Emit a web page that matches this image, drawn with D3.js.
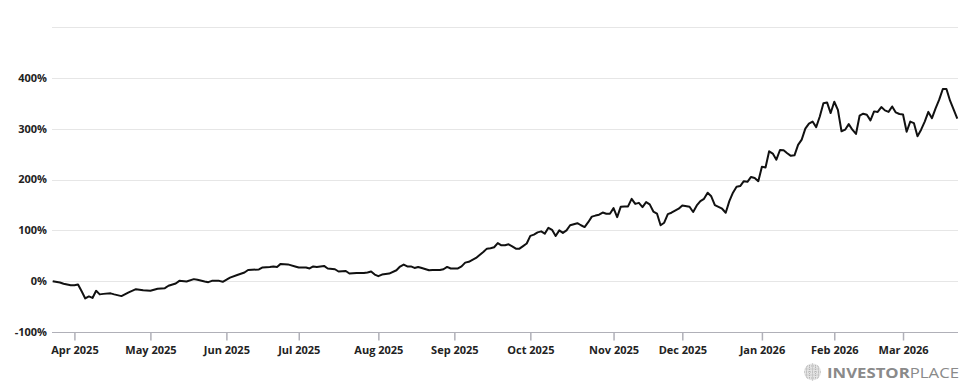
<!DOCTYPE html>
<html>
<head>
<meta charset="utf-8">
<script src="https://cdn.jsdelivr.net/npm/d3@7"></script>
<style>
  body { margin: 0; background: #fff; }
  text { font-family: "Open Sans", "Noto Sans", sans-serif; }
</style>
</head>
<body>
<div id="chart"></div>
<script>
//market holidays (no trading day on the axis)
var holidays = ["2025-04-18", "2025-05-26", "2025-06-19", "2025-07-04", "2025-09-01",
    "2025-11-27", "2025-12-25", "2026-01-01", "2026-01-19", "2026-02-16"];

//y ticks
var yTicks = [-100, 0, 100, 200, 300, 400, 500];
var yLabels = ["-100%", "0%", "100%", "200%", "300%", "400%", ""];

//dates
var dates = [
    "2025-03-24","2025-03-26","2025-03-27","2025-03-31","2025-04-01","2025-04-02","2025-04-03","2025-04-04",
    "2025-04-07","2025-04-08","2025-04-09","2025-04-10","2025-04-11","2025-04-15","2025-04-16","2025-04-21",
    "2025-04-23","2025-04-25","2025-04-29","2025-05-01","2025-05-05","2025-05-07","2025-05-08","2025-05-12",
    "2025-05-13","2025-05-15","2025-05-19","2025-05-20","2025-05-22","2025-05-23","2025-05-27","2025-05-29",
    "2025-05-30","2025-06-03","2025-06-05","2025-06-09","2025-06-10","2025-06-13","2025-06-16","2025-06-18",
    "2025-06-20","2025-06-23","2025-06-24","2025-06-26","2025-06-30","2025-07-01","2025-07-03","2025-07-07",
    "2025-07-08","2025-07-09","2025-07-11","2025-07-14","2025-07-16","2025-07-17","2025-07-21","2025-07-22",
    "2025-07-24","2025-07-28","2025-07-29","2025-07-30","2025-07-31","2025-08-01","2025-08-04","2025-08-06",
    "2025-08-08","2025-08-11","2025-08-12","2025-08-13","2025-08-14","2025-08-15","2025-08-18","2025-08-19",
    "2025-08-21","2025-08-22","2025-08-26","2025-08-27","2025-08-28","2025-08-29","2025-09-03","2025-09-04",
    "2025-09-05","2025-09-08","2025-09-10","2025-09-12","2025-09-15","2025-09-16","2025-09-17","2025-09-18",
    "2025-09-19","2025-09-22","2025-09-23","2025-09-24","2025-09-25","2025-09-26","2025-09-29","2025-09-30",
    "2025-10-01","2025-10-02","2025-10-03","2025-10-06","2025-10-07","2025-10-08","2025-10-09","2025-10-10",
    "2025-10-13","2025-10-14","2025-10-15","2025-10-16","2025-10-17","2025-10-20","2025-10-21","2025-10-22",
    "2025-10-23","2025-10-24","2025-10-27","2025-10-28","2025-10-29","2025-10-30","2025-10-31","2025-11-03",
    "2025-11-04","2025-11-05","2025-11-06","2025-11-07","2025-11-10","2025-11-11","2025-11-12","2025-11-13",
    "2025-11-14","2025-11-17","2025-11-18","2025-11-19","2025-11-20","2025-11-21","2025-11-24","2025-11-25",
    "2025-11-28","2025-12-01","2025-12-03","2025-12-04","2025-12-05","2025-12-08","2025-12-09","2025-12-10",
    "2025-12-11","2025-12-12","2025-12-16","2025-12-17","2025-12-18","2025-12-19","2025-12-22","2025-12-23",
    "2025-12-24","2025-12-26","2025-12-29","2025-12-30","2025-12-31","2026-01-02","2026-01-05","2026-01-06",
    "2026-01-07","2026-01-08","2026-01-09","2026-01-12","2026-01-13","2026-01-14","2026-01-15","2026-01-16",
    "2026-01-20","2026-01-21","2026-01-22","2026-01-23","2026-01-26","2026-01-27","2026-01-28","2026-01-29",
    "2026-01-30","2026-02-02","2026-02-03","2026-02-04","2026-02-05","2026-02-06","2026-02-09","2026-02-10",
    "2026-02-11","2026-02-12","2026-02-13","2026-02-17","2026-02-18","2026-02-19","2026-02-20","2026-02-23",
    "2026-02-24","2026-02-25","2026-02-26","2026-02-27","2026-03-02","2026-03-03","2026-03-04","2026-03-05",
    "2026-03-06","2026-03-09","2026-03-10","2026-03-11","2026-03-12","2026-03-13","2026-03-16","2026-03-17",
    "2026-03-18","2026-03-19","2026-03-23"
];

//return in %
var returns = [
    0, -2.6, -5, -8, -8, -6.5, -20, -34,
    -30, -33, -19, -26, -25, -24, -26, -29.4,
    -22, -15.7, -18, -19, -15, -13.7, -9, -4.5,
    0.6, -0.6, 4, 2.6, -0.6, -2, 0.6, 0.6,
    -1.3, 7, 12, 17, 22, 23, 27, 28,
    29, 28, 34, 33, 29, 27, 27, 25,
    29, 28, 30, 25, 23.5, 19, 20, 15,
    16, 16, 17, 19, 13, 9.8, 13, 15,
    21.5, 28.7, 32.7, 29, 29, 26, 28, 26,
    21.5, 22, 22, 23.5, 28, 25, 25, 29,
    36.5, 38, 45.7, 57.5, 64, 64.7, 66.7, 75,
    70.6, 70.6, 72.5, 68.6, 64, 64, 69, 74,
    89, 91.5, 96, 98, 93.5, 105, 101, 89,
    100, 95, 100, 110, 112, 114, 110, 106.5,
    116, 127, 129, 130.7, 135, 132.7, 132.7, 143.7,
    126, 146.5, 147, 147, 162, 152, 154, 145.7,
    155.5, 151, 137, 133, 110, 115, 132, 134.6,
    142.5, 149, 146.5, 136, 149, 157.5, 162, 174,
    167, 149.6, 142.5, 134.6, 157.5, 174, 185.7, 187,
    196.7, 195.5, 205, 203, 196.7, 225, 223.5, 255.5,
    251, 239, 258, 257.5, 251.6, 246.5, 247.6, 268,
    278.4, 300, 310, 314, 303, 324, 350, 351.6,
    330.7, 353, 337, 295, 298, 309, 298, 289.6,
    325.5, 329.4, 327.5, 316.3, 334, 333, 342.5, 336,
    333, 343.7, 332, 328.8, 328, 294, 314, 311,
    285, 298, 314, 333, 320.6, 340, 357, 378,
    378, 355, 319.6
];

var svgWidth = 975;
var svgHeight = 390;

var svg = d3.select("#chart")
    .append("svg")
    .attr("width", svgWidth)
    .attr("height", svgHeight);

var parse = d3.timeParse("%Y-%m-%d");
var fmt = d3.timeFormat("%Y-%m-%d");

//trading days between first and last date
var tradingDays = d3.timeDay.range(parse(dates[0]), d3.timeDay.offset(parse(dates[dates.length - 1]), 1))
    .filter(d => d.getDay() != 0 && d.getDay() != 6 && holidays.indexOf(fmt(d)) < 0)
    .map(fmt);

var xScale = d3.scalePoint()
    .domain(tradingDays)
    .range([52.7, 957.3]);

var yScale = d3.scaleLinear()
    .domain([-100, 500])
    .range([332, 27]);

//gridlines
svg.append("g")
    .selectAll("line")
    .data(yTicks.slice(1))
    .enter()
    .append("line")
    .attr("x1", 52)
    .attr("x2", 958)
    .attr("y1", d => Math.round(yScale(d)) + 0.5)
    .attr("y2", d => Math.round(yScale(d)) + 0.5)
    .attr("stroke", "#e6e6e6")
    .attr("stroke-width", 1);

//y labels
svg.append("g")
    .selectAll("text")
    .data(yTicks)
    .enter()
    .append("text")
    .attr("x", 47)
    .attr("y", d => yScale(d))
    .attr("dy", "0.35em")
    .attr("text-anchor", "end")
    .attr("font-size", 11)
    .attr("font-weight", "bold")
    .attr("fill", "#222")
    .text((d, i) => yLabels[i]);

//first trading day of each month for ticks
var monthTicks = Array.from(d3.group(tradingDays, d => d.slice(0, 7)).values())
    .map(v => v[0])
    .filter(d => d >= "2025-04-01");

var xAxis = d3.axisBottom(xScale)
    .tickValues(monthTicks)
    .tickSize(8)
    .tickSizeOuter(0)
    .tickPadding(6)
    .tickFormat(d => d3.timeFormat("%b %Y")(parse(d)));

var xAxisGroup = svg.append("g")
    .attr("transform", `translate(0, ${Math.round(yScale(-100)) + 0.5})`)
    .call(xAxis);

xAxisGroup.select(".domain")
    .attr("d", "M52,0H958")
    .attr("stroke", "#b0b0b8");
xAxisGroup.selectAll(".tick line").attr("stroke", "#b0b0b8").attr("stroke-width", 1.5);
xAxisGroup.selectAll(".tick text")
    .attr("font-family", "'Open Sans', sans-serif")
    .attr("font-size", 11)
    .attr("font-weight", "bold")
    .attr("fill", "#222");

//line
var line = d3.line()
    .x((d, i) => xScale(d))
    .y((d, i) => yScale(returns[i]));

svg.append("path")
    .datum(dates)
    .attr("d", line)
    .attr("fill", "none")
    .attr("stroke", "#111")
    .attr("stroke-width", 2)
    .attr("stroke-linejoin", "round");

//logo
var logo = svg.append("g").attr("transform", "translate(812.5, 372)");
logo.append("circle").attr("r", 8.5).attr("fill", "#e4e4e4");
[-6, -3, 0, 3, 6].forEach(function(o){
    logo.append("line").attr("x1", o).attr("x2", o).attr("y1", -8.5 + Math.abs(o) / 2).attr("y2", 8.5 - Math.abs(o) / 2)
        .attr("stroke", "#b5b5b5").attr("stroke-width", 1).attr("stroke-dasharray", "1,1");
    logo.append("line").attr("y1", o).attr("y2", o).attr("x1", -8.5 + Math.abs(o) / 2).attr("x2", 8.5 - Math.abs(o) / 2)
        .attr("stroke", "#b5b5b5").attr("stroke-width", 1).attr("stroke-dasharray", "1,1");
});

var brand = svg.append("text")
    .attr("x", 827)
    .attr("y", 377.5)
    .attr("font-size", 15)
    .attr("fill", "#8a8a8a")
    .attr("textLength", 132)
    .attr("lengthAdjust", "spacingAndGlyphs");
brand.append("tspan").attr("font-weight", "bold").text("INVESTOR");
brand.append("tspan").attr("font-weight", "normal").text("PLACE");
</script>
</body>
</html>
